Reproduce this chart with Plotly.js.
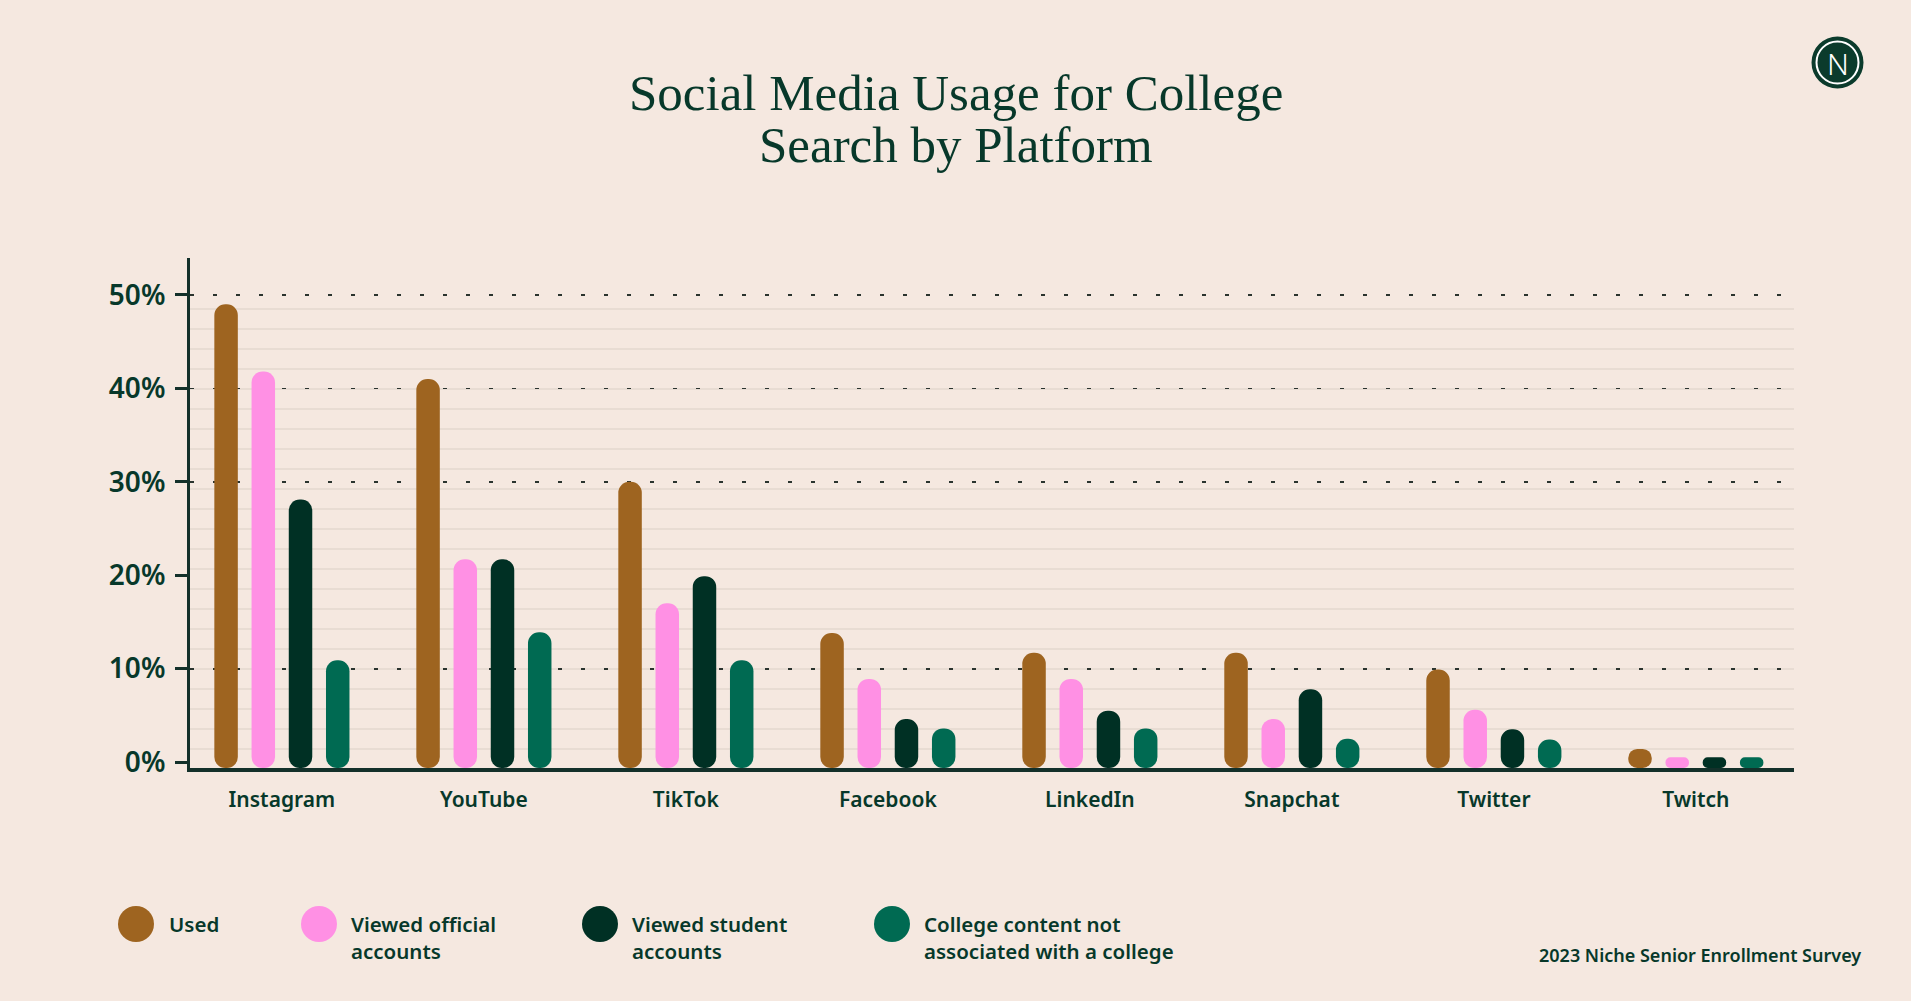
<!DOCTYPE html>
<html>
<head>
<meta charset="utf-8">
<script src="https://cdn.plot.ly/plotly-3.0.1.min.js"></script>
<style>
  html, body { margin: 0; padding: 0; background: #F5E8E0; }
  #chart { width: 1911px; height: 1001px; }
</style>
</head>
<body>
<div id="chart"></div>
<script>
// ---------- DATA ----------
const categories = ["Instagram", "YouTube", "TikTok", "Facebook", "LinkedIn", "Snapchat", "Twitter", "Twitch"];
const seriesNames = ["Used", "Viewed official<br>accounts", "Viewed student<br>accounts", "College content not<br>associated with a college"];
const used            = [49, 41, 30, 13.8, 11.7, 11.7, 9.9, 1.4];
const viewedOfficial  = [41.8, 21.7, 17, 8.9, 8.9, 4.6, 5.6, 0.5];
const viewedStudent   = [28.1, 21.7, 19.9, 4.6, 5.5, 7.8, 3.5, 0.5];
const collegeContent  = [10.9, 13.9, 10.9, 3.6, 3.6, 2.5, 2.4, 0.5];
const yTickVals = [0, 10, 20, 30, 40, 50];
const yTickText = ["0%", "10%", "20%", "30%", "40%", "50%"];
const dottedGridVals = [10, 30, 40, 50];
const titleLines = ["Social Media Usage for College", "Search by Platform"];
const sourceText = "2023 Niche Senior Enrollment Survey";

// ---------- STYLE ----------
const colors = ["#9E6420", "#FF90E4", "#003024", "#006A52"];
const BG = "#F5E8E0";
const INK = "#07382A";
const FLOOR = -0.64;            // bottom of the value axis (bars sit on the baseline)
const YRANGE = [FLOOR, 53.96];

// decorative ruled lines (notebook-paper background)
const RULE_START = 1.39, RULE_STEP = 2.14, RULE_END = 48.6;
const ruleVals = [];
for (let v = RULE_START; v <= RULE_END; v += RULE_STEP) ruleVals.push(+v.toFixed(2));

const W = 1911, H = 1001;
const M = { l: 190, r: 117, t: 258, b: 233 };
const PW = W - M.l - M.r, PH = H - M.t - M.b;
const px2x = px => (px - M.l) / PW;
const px2y = py => (H - M.b - py) / PH;

const seriesValues = [used, viewedOfficial, viewedStudent, collegeContent];

const traces = seriesValues.map((vals, i) => ({
  type: "bar",
  name: seriesNames[i].replace("<br>", " "),
  x: categories,
  y: vals.map(v => v - FLOOR),
  base: FLOOR,
  marker: { color: colors[i], cornerradius: "50%", line: { width: 0 } },
  hoverinfo: "skip"
}));
// empty helper trace so the overlay axis (dotted grid) is drawn
traces.push({ type: "scatter", x: [], y: [], yaxis: "y2", showlegend: false, hoverinfo: "skip" });

const shapes = [];
const annotations = [];

// title
const titleY = [93, 145];
titleLines.forEach((t, i) => annotations.push({
  text: t, xref: "paper", yref: "paper", x: px2x(955.5), y: px2y(titleY[i]),
  xanchor: "center", yanchor: "middle", showarrow: false,
  font: { family: "Liberation Serif, serif", size: 51, color: INK }
}));

// legend
const legCircleX = [136, 319, 600, 892];
const legTextX = [167, 349, 630, 922];
seriesNames.forEach((n, i) => {
  shapes.push({
    type: "circle", xref: "paper", yref: "paper",
    xsizemode: "pixel", ysizemode: "pixel",
    xanchor: px2x(legCircleX[i]), yanchor: px2y(924),
    x0: -18, x1: 18, y0: -18, y1: 18,
    fillcolor: colors[i], line: { width: 0 }
  });
  annotations.push({
    text: n, xref: "paper", yref: "paper", x: px2x(legTextX[i]), y: px2y(908),
    xanchor: "left", yanchor: "top", align: "left", showarrow: false,
    font: { family: "Noto Sans, sans-serif", size: 20.5, weight: 600, color: INK, lineposition: "none" }
  });
});

// source
annotations.push({
  text: sourceText, xref: "paper", yref: "paper", x: px2x(1863), y: px2y(955),
  xanchor: "right", yanchor: "middle", showarrow: false,
  font: { family: "Noto Sans, sans-serif", size: 18, weight: 600, color: INK }
});

// logo
shapes.push({
  type: "circle", xref: "paper", yref: "paper", xsizemode: "pixel", ysizemode: "pixel",
  xanchor: px2x(1837.5), yanchor: px2y(62.5), x0: -26, x1: 26, y0: -26, y1: 26,
  fillcolor: "#0B3B2C", line: { width: 0 }
});
shapes.push({
  type: "circle", xref: "paper", yref: "paper", xsizemode: "pixel", ysizemode: "pixel",
  xanchor: px2x(1837.5), yanchor: px2y(62.5), x0: -21, x1: 21, y0: -21, y1: 21,
  fillcolor: "rgba(0,0,0,0)", line: { width: 2, color: "#FFFFFF" }
});
annotations.push({
  text: "N", xref: "paper", yref: "paper", x: px2x(1837.5), y: px2y(63),
  xanchor: "center", yanchor: "middle", showarrow: false,
  font: { family: "Noto Sans, sans-serif", size: 30, weight: 300, color: "#FFFFFF" }
});

const layout = {
  width: W, height: H,
  margin: M,
  paper_bgcolor: BG, plot_bgcolor: BG,
  showlegend: false,
  barmode: "group", bargap: 0.263, bargroupgap: 0.369,
  xaxis: {
    type: "category", range: [-0.455, 7.486],
    showline: true, linecolor: "#13302A", linewidth: 4,
    ticks: "", showgrid: false, zeroline: false,
    ticklabelstandoff: 10,
    tickfont: { family: "Noto Sans, sans-serif", size: 21, weight: 600, color: INK },
    fixedrange: true
  },
  yaxis: {
    range: YRANGE, tickmode: "array", tickvals: yTickVals, ticktext: yTickText,
    showline: true, linecolor: "#13302A", linewidth: 3,
    ticks: "outside", ticklen: 12, tickwidth: 3, tickcolor: "#13302A",
    ticklabelstandoff: 4,
    showgrid: false, zeroline: false,
    minor: { tickmode: "array", tickvals: ruleVals, showgrid: true, gridcolor: "#E8DCD3", gridwidth: 1.6, ticks: "" },
    tickfont: { family: "Noto Sans, sans-serif", size: 28, weight: 600, color: INK },
    fixedrange: true
  },
  yaxis2: {
    overlaying: "y", range: YRANGE, tickmode: "array", tickvals: dottedGridVals,
    showgrid: true, griddash: "4px,19px", gridcolor: "#2A332E", gridwidth: 1.8,
    showticklabels: false, ticks: "", showline: false, zeroline: false,
    fixedrange: true
  },
  shapes: shapes,
  annotations: annotations
};

Plotly.newPlot("chart", traces, layout, { displayModeBar: false, staticPlot: true });
</script>
</body>
</html>
